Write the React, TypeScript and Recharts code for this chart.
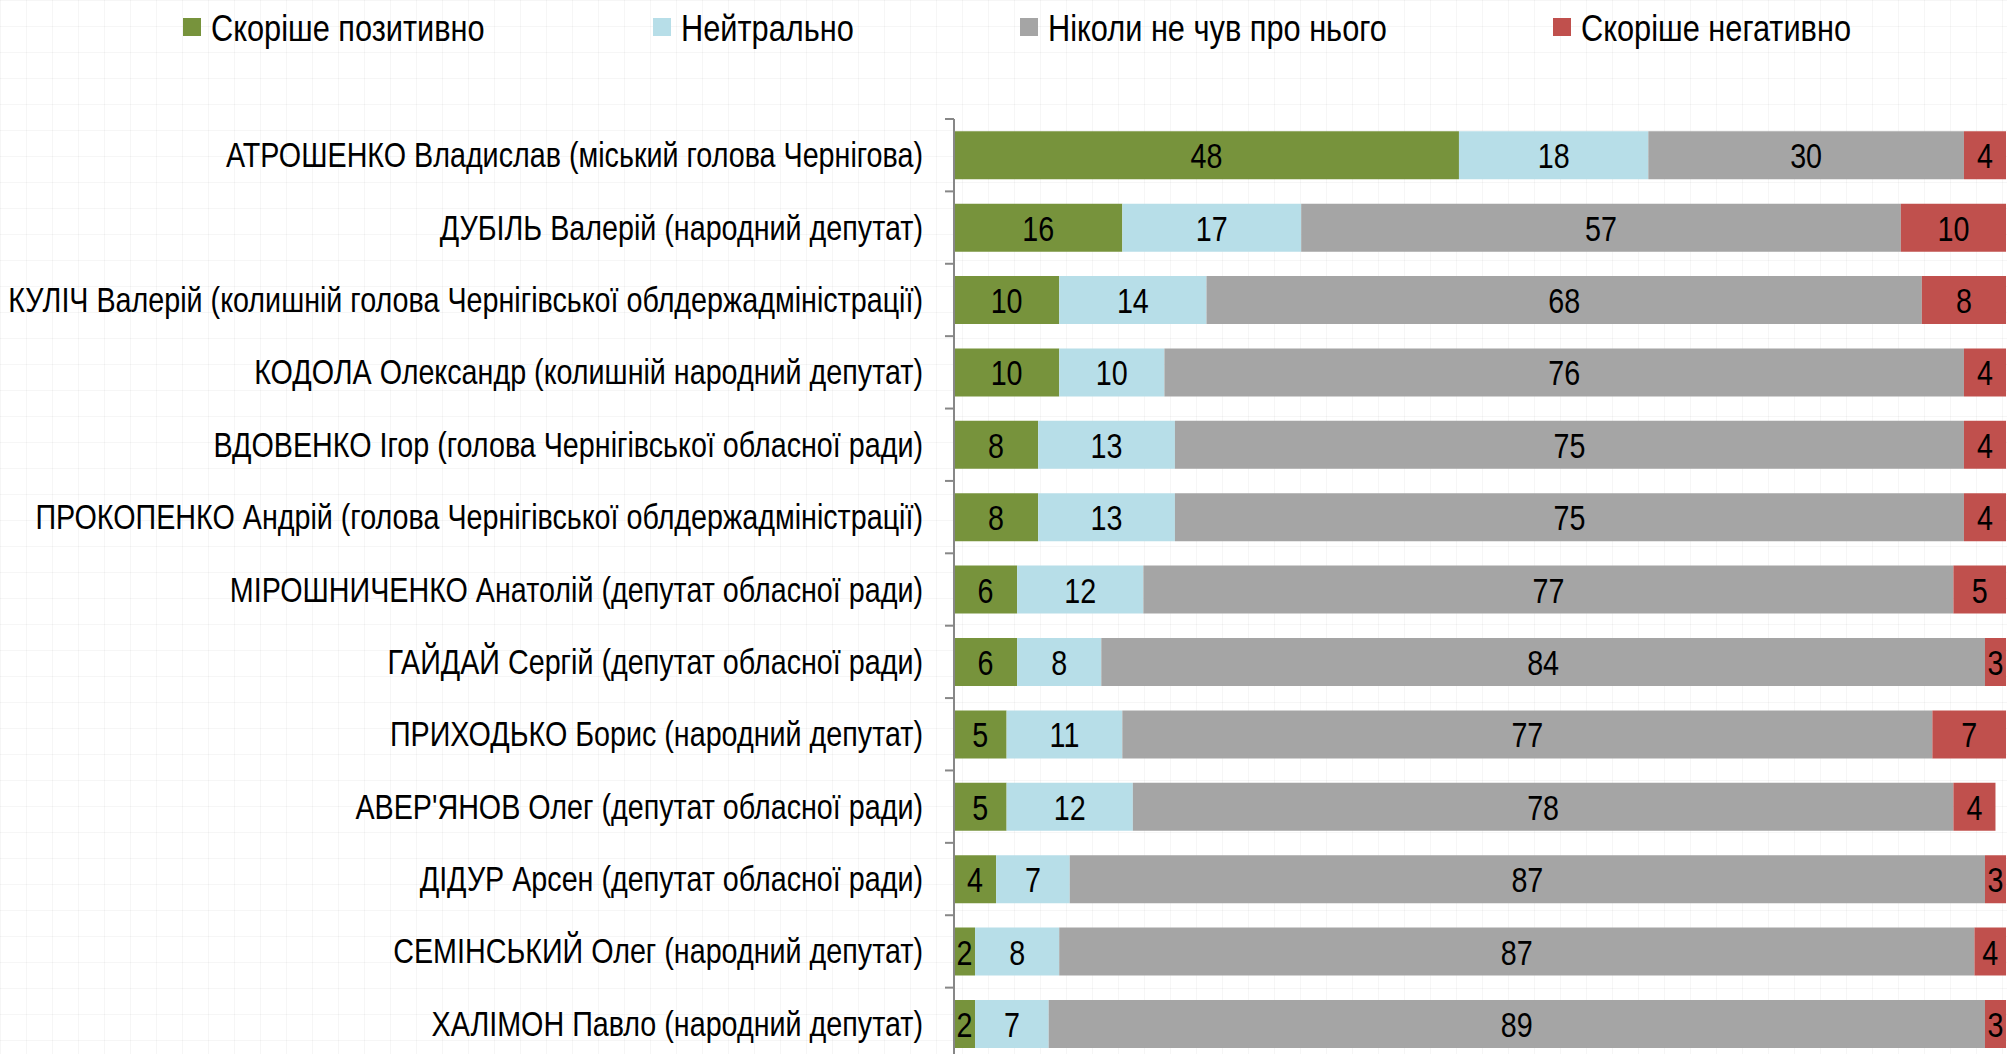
import React from 'react';

import { Bar, BarChart, LabelList, Legend, XAxis, YAxis } from 'recharts';

const names = [
  'АТРОШЕНКО Владислав (міський голова Чернігова)',
  'ДУБІЛЬ Валерій (народний депутат)',
  'КУЛІЧ Валерій (колишній голова Чернігівської облдержадміністрації)',
  'КОДОЛА Олександр (колишній народний депутат)',
  'ВДОВЕНКО Ігор (голова Чернігівської обласної ради)',
  'ПРОКОПЕНКО Андрій (голова Чернігівської облдержадміністрації)',
  'МІРОШНИЧЕНКО Анатолій (депутат обласної ради)',
  'ГАЙДАЙ Сергій (депутат обласної ради)',
  'ПРИХОДЬКО Борис (народний депутат)',
  "АВЕР'ЯНОВ Олег (депутат обласної ради)",
  'ДІДУР Арсен (депутат обласної ради)',
  'СЕМІНСЬКИЙ Олег (народний депутат)',
  'ХАЛІМОН Павло (народний депутат)',
];

const positive = [48, 16, 10, 10, 8, 8, 6, 6, 5, 5, 4, 2, 2];
const neutral = [18, 17, 14, 10, 13, 13, 12, 8, 11, 12, 7, 8, 7];
const never = [30, 57, 68, 76, 75, 75, 77, 84, 77, 78, 87, 87, 89];
const negative = [4, 10, 8, 4, 4, 4, 5, 3, 7, 4, 3, 4, 3];

const series = [
  { key: 'positive', label: 'Скоріше позитивно', color: '#77933c' },
  { key: 'neutral', label: 'Нейтрально', color: '#b7dee8' },
  { key: 'never', label: 'Ніколи не чув про нього', color: '#a5a5a5' },
  { key: 'negative', label: 'Скоріше негативно', color: '#c0504d' },
];

const rows = names.map((name, i) => ({
  name,
  positive: positive[i],
  neutral: neutral[i],
  never: never[i],
  negative: negative[i],
}));

// layout
const AXIS_X = 954;
const PLOT_TOP = 119;
const CHART_H = 1060;
const BAND = (CHART_H - PLOT_TOP) / names.length;
const NARROW = 0.82; // Liberation Sans squeezed to look like Arial Narrow
const LEGEND_X = [183, 653, 1020, 1553];

const NarrowText = ({ x, y, anchor, size = 35, children }: any) => (
  <text
    transform={`translate(${x},${y}) scale(${NARROW},1)`}
    textAnchor={anchor}
    dominantBaseline="central"
    fontSize={size}
    fontFamily="'Liberation Sans', Arial, sans-serif"
    fill="#000"
  >
    {children}
  </text>
);

const NameTick = (props: any) => {
  const { y, payload } = props;
  return (
    <g>
      <NarrowText x={AXIS_X - 31} y={y} anchor="end">
        {payload.value}
      </NarrowText>
      <line x1={AXIS_X - 9} x2={AXIS_X} y1={y - BAND / 2} y2={y - BAND / 2} stroke="#878787" strokeWidth={2} />
    </g>
  );
};

const ValueLabel = (props: any) => {
  const { x, y, width, height, value } = props;
  return (
    <NarrowText x={x + width / 2} y={y + height / 2 + 1} anchor="middle">
      {value}
    </NarrowText>
  );
};

const LegendRow = () => (
  <svg width={2007} height={60}>
    {series.map((s, i) => (
      <g key={s.key}>
        <rect x={LEGEND_X[i]} y={18} width={18} height={18} fill={s.color} />
        <NarrowText x={LEGEND_X[i] + 28} y={28} anchor="start" size={37.5}>
          {s.label}
        </NarrowText>
      </g>
    ))}
  </svg>
);

const App = () => {
  return (
    <div
      style={{
        position: 'fixed',
        left: 0,
        top: 0,
        width: 2007,
        height: 1054,
        overflow: 'hidden',
        backgroundColor: '#ffffff',
        backgroundImage:
          'linear-gradient(to right, rgba(0,0,0,0.035) 1px, transparent 1px), linear-gradient(to bottom, rgba(0,0,0,0.035) 1px, transparent 1px)',
        backgroundSize: '26px 26px',
      }}
    >
      <BarChart
        layout="vertical"
        width={2010}
        height={CHART_H}
        data={rows}
        margin={{ top: PLOT_TOP, right: 4, bottom: 0, left: 0 }}
        barCategoryGap="17%"
      >
        <XAxis type="number" domain={[0, 100]} allowDataOverflow hide />
        <YAxis
          type="category"
          dataKey="name"
          width={AXIS_X}
          interval={0}
          tickLine={false}
          axisLine={{ stroke: '#878787', strokeWidth: 2 }}
          tick={<NameTick />}
        />
        <Legend
          layout="horizontal"
          verticalAlign="middle"
          align="center"
          content={() => <LegendRow />}
          wrapperStyle={{ top: 0, left: 0, width: 2007, height: 60 }}
        />
        {series.map((s) => (
          <Bar key={s.key} dataKey={s.key} stackId="a" fill={s.color} isAnimationActive={false}>
            <LabelList dataKey={s.key} content={<ValueLabel />} />
          </Bar>
        ))}
      </BarChart>
    </div>
  );
};

export default App;
